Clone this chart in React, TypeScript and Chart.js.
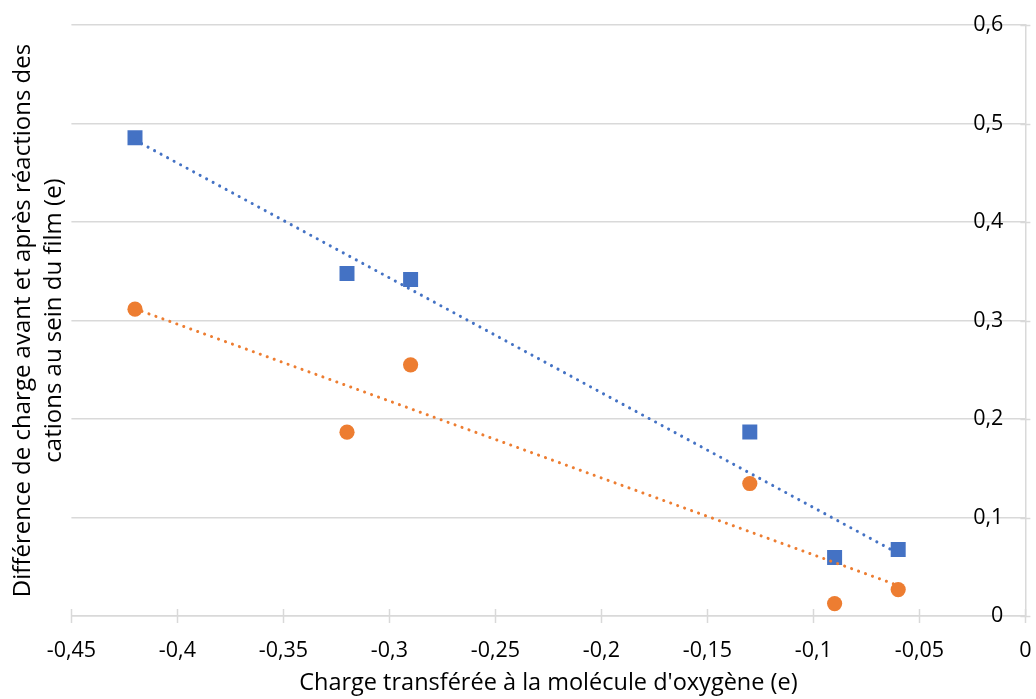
import React, { useEffect, useRef } from "react";
import { Chart, registerables } from "chart.js";

Chart.register(...registerables);

const xValues = [-0.42, -0.32, -0.29, -0.13, -0.09, -0.06];
const seriesBlue = [0.4855, 0.3478, 0.3417, 0.1869, 0.0593, 0.0674];
const seriesOrange = [0.3115, 0.1866, 0.255, 0.1345, 0.0126, 0.0268];
const xTitle = "Charge transférée à la molécule d'oxygène (e)";
const yTitle = ["Différence de charge avant et après réactions des", "cations au sein du film (e)"];

const BLUE = "#4472C4";
const ORANGE = "#ED7D31";
const GRID = "#D9D9D9";
const FONT = "'Open Sans', sans-serif";

function fitLine(xs: number[], ys: number[]) {
  const n = xs.length;
  const mx = xs.reduce((a, b) => a + b, 0) / n;
  const my = ys.reduce((a, b) => a + b, 0) / n;
  let sxy = 0, sxx = 0;
  for (let i = 0; i < n; i++) {
    sxy += (xs[i] - mx) * (ys[i] - my);
    sxx += (xs[i] - mx) * (xs[i] - mx);
  }
  const b = sxy / sxx;
  const a = my - b * mx;
  const x0 = Math.min(...xs), x1 = Math.max(...xs);
  return [
    { x: x0, y: a + b * x0 },
    { x: x1, y: a + b * x1 },
  ];
}

const fmt = (v: number) => {
  const r = Math.round(v * 100) / 100;
  return String(r).replace(".", ",");
};

const crossTicks = {
  id: "crossTicks",
  afterDraw(chart: any) {
    const ctx = chart.ctx;
    const xs = chart.scales.x;
    const ys = chart.scales.y;
    const area = chart.chartArea;
    ctx.save();
    ctx.strokeStyle = GRID;
    ctx.lineWidth = 1.5;
    ctx.beginPath();
    xs.ticks.forEach((t: any) => {
      const px = Math.round(xs.getPixelForValue(t.value)) + 0.5;
      ctx.moveTo(px, area.bottom - 7);
      ctx.lineTo(px, area.bottom + 7);
    });
    ys.ticks.forEach((t: any) => {
      const py = Math.round(ys.getPixelForValue(t.value)) + 0.5;
      ctx.moveTo(area.right - 5, py);
      ctx.lineTo(area.right + 5, py);
    });
    ctx.stroke();
    ctx.restore();
  },
};

export default function App() {
  const ref = useRef<HTMLCanvasElement | null>(null);
  useEffect(() => {
    document.body.style.margin = "0";
    const blue = xValues.map((x, i) => ({ x, y: seriesBlue[i] }));
    const orange = xValues.map((x, i) => ({ x, y: seriesOrange[i] }));
    const chart = new Chart(ref.current as HTMLCanvasElement, {
      type: "scatter",
      data: {
        datasets: [
          {
            label: "trend blue",
            type: "line",
            data: fitLine(xValues, seriesBlue),
            borderColor: BLUE,
            borderWidth: 3,
            borderDash: [0.1, 7.3],
            borderCapStyle: "round",
            pointRadius: 0,
            fill: false,
          } as any,
          {
            label: "trend orange",
            type: "line",
            data: fitLine(xValues, seriesOrange),
            borderColor: ORANGE,
            borderWidth: 3,
            borderDash: [0.1, 7.3],
            borderCapStyle: "round",
            pointRadius: 0,
            fill: false,
          } as any,
          {
            label: "blue",
            data: blue,
            pointStyle: "rect",
            pointRadius: 10.6,
            backgroundColor: BLUE,
            borderColor: BLUE,
            borderWidth: 0,
          },
          {
            label: "orange",
            data: orange,
            pointStyle: "circle",
            pointRadius: 7.6,
            backgroundColor: ORANGE,
            borderColor: ORANGE,
            borderWidth: 0,
          },
        ],
      },
      options: {
        animation: false,
        responsive: false,
        events: [],
        layout: { padding: { top: 25, right: 0, bottom: 0, left: 7.5 } },
        plugins: { legend: { display: false }, tooltip: { enabled: false } },
        scales: {
          x: {
            type: "linear",
            min: -0.45,
            max: 0,
            afterFit: (scale: any) => {
              scale.height = 83;
              scale.paddingLeft = 0;
              scale.paddingRight = 9;
            },
            ticks: {
              stepSize: 0.05,
              color: "#000",
              font: { family: FONT, size: 21.5 },
              padding: 15,
              maxRotation: 0,
              autoSkip: false,
              callback: (v: any) => fmt(Number(v)),
            },
            grid: { display: true, drawOnChartArea: false, drawTicks: true, tickLength: 7, color: "rgba(0,0,0,0)" },
            border: { display: true, color: GRID, width: 1.5 },
            title: {
              display: true,
              text: xTitle,
              color: "#000",
              font: { family: FONT, size: 23.5 },
              padding: { top: 0, bottom: 2 },
            },
          },
          y: {
            type: "linear",
            position: "right",
            min: 0,
            max: 0.6,
            afterFit: (scale: any) => {
              scale.width = 0;
              scale.paddingTop = 0;
              scale.paddingBottom = 0;
            },
            ticks: {
              stepSize: 0.1,
              mirror: true,
              padding: -22,
              color: "#000",
              font: { family: FONT, size: 21.5 },
              callback: (v: any) => fmt(Number(v)),
            },
            grid: { color: GRID, lineWidth: 1.5, drawTicks: false },
            border: { display: true, color: GRID, width: 1.5 },
          },
          yLeft: {
            type: "linear",
            position: "left",
            min: 0,
            max: 0.6,
            ticks: { display: false },
            grid: { display: false, drawTicks: false },
            border: { display: false },
            title: {
              display: true,
              text: yTitle,
              color: "#000",
              font: { family: FONT, size: 24, lineHeight: 1.3 },
              padding: { top: 0, bottom: 1.5 },
            },
          },
        },
      },
      plugins: [crossTicks],
    });
    return () => chart.destroy();
  }, []);
  return <canvas ref={ref} width={1036} height={699} style={{ display: "block" }} />;
}
